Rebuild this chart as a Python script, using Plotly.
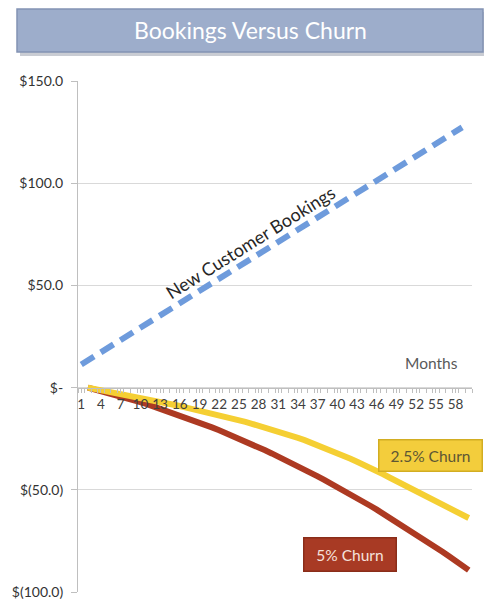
import plotly.graph_objects as go

# Months on the category axis
tick_months = list(range(1, 61, 3))

# Cumulative new customer bookings ($), months 1-59
booking_months = list(range(1, 60))
bookings = [11.3, 13.3, 15.3, 17.3, 19.3, 21.3, 23.3, 25.3, 27.3, 29.3,
            31.3, 33.3, 35.3, 37.3, 39.3, 41.3, 43.3, 45.3, 47.3, 49.3,
            51.3, 53.3, 55.3, 57.3, 59.3, 61.3, 63.3, 65.3, 67.3, 69.3,
            71.3, 73.3, 75.3, 77.3, 79.3, 81.3, 83.3, 85.3, 87.3, 89.3,
            91.3, 93.3, 95.3, 97.3, 99.3, 101.3, 103.3, 105.3, 107.3, 109.3,
            111.3, 113.3, 115.3, 117.3, 119.3, 121.3, 123.3, 125.3, 127.3]

# Revenue lost to churn ($), months 2-60
churn_months = list(range(2, 61))
churn_25 = [0.0, -0.6, -1.2, -1.8, -2.4, -3.0, -3.6, -4.3, -4.9, -5.6,
            -6.2, -6.9, -7.5, -8.3, -9.0, -9.8, -10.5, -11.3, -12.0, -12.8,
            -13.6, -14.3, -15.1, -15.9, -16.8, -17.7, -18.6, -19.5, -20.4, -21.5,
            -22.5, -23.6, -24.6, -25.7, -26.9, -28.2, -29.4, -30.7, -31.9, -33.4,
            -34.8, -36.3, -37.7, -39.2, -40.8, -42.4, -44.1, -45.7, -47.3, -49.0,
            -50.7, -52.4, -54.1, -55.8, -57.4, -59.0, -60.6, -62.2, -63.8]
churn_5 = [0.0, -0.8, -1.6, -2.5, -3.4, -4.3, -5.2, -6.1, -7.1, -8.1,
           -9.2, -10.2, -11.3, -12.4, -13.5, -14.7, -15.9, -17.1, -18.3, -19.6,
           -20.9, -22.2, -23.6, -24.9, -26.3, -27.8, -29.2, -30.7, -32.2, -33.7,
           -35.3, -36.8, -38.4, -40.1, -41.7, -43.4, -45.1, -46.8, -48.6, -50.4,
           -52.2, -54.0, -55.9, -57.8, -59.7, -61.7, -63.6, -65.6, -67.6, -69.7,
           -71.8, -73.9, -76.0, -78.1, -80.3, -82.5, -84.7, -87.0, -89.3]

# Dollar axis
y_ticks = [150, 100, 50, 0, -50, -100]
y_labels = ["$150.0", "$100.0", "$50.0", "$-", "$(50.0)", "$(100.0)"]

FONT = "Lato, 'Open Sans', sans-serif"
BLUE = "#6e9bdc"
YELLOW = "#f5cf33"
RED = "#ad3a22"

fig = go.Figure()

fig.add_trace(go.Scatter(x=churn_months, y=churn_5, mode="lines",
                         line=dict(color=RED, width=6), hoverinfo="skip"))
fig.add_trace(go.Scatter(x=churn_months, y=churn_25, mode="lines",
                         line=dict(color=YELLOW, width=6), hoverinfo="skip"))
fig.add_trace(go.Scatter(x=booking_months, y=bookings, mode="lines",
                         line=dict(color=BLUE, width=6, dash="15px,8px"),
                         hoverinfo="skip"))

fig.update_layout(
    width=484, height=600,
    margin=dict(l=78, r=12, t=81, b=8),
    paper_bgcolor="white", plot_bgcolor="white",
    showlegend=False,
    font=dict(family=FONT, color="#404040", size=12),
    xaxis=dict(
        range=[0.5, 60.5], anchor="free", position=0.4, automargin=False,
        tickvals=tick_months, ticktext=[str(m) for m in tick_months],
        showline=True, linecolor="#bfbfbf", linewidth=1,
        ticks="outside", ticklen=4, tickcolor="#bfbfbf",
        minor=dict(dtick=1, tick0=0.5, ticks="outside", ticklen=4, tickcolor="#bfbfbf"),
        showgrid=False, zeroline=False,
        tickfont=dict(size=13.5, color="#404040"),
    ),
    yaxis=dict(
        range=[-100, 150], tickvals=y_ticks, ticktext=y_labels, automargin=False,
        showline=True, linecolor="#bfbfbf", linewidth=1,
        ticks="outside", ticklen=6, tickcolor="#bfbfbf", ticklabelstandoff=5,
        showgrid=True, gridcolor="#d9d9d9", gridwidth=1,
        zeroline=False,
        tickfont=dict(size=14, color="#333333"),
    ),
)

# Title banner with a soft drop shadow
fig.add_shape(type="rect", xref="paper", yref="paper", layer="below",
              x0=(20 - 78) / 394, x1=(486 - 78) / 394,
              y0=(592 - 56) / 511, y1=(592 - 12) / 511,
              fillcolor="#c9ccd3", line=dict(width=0))
fig.add_shape(type="rect", xref="paper", yref="paper",
              x0=(17 - 78) / 394, x1=(483 - 78) / 394,
              y0=(592 - 52) / 511, y1=(592 - 9) / 511,
              fillcolor="#9dadcb", line=dict(color="#8393b4", width=1.5))
fig.add_annotation(xref="paper", yref="paper",
                   x=(250 - 78) / 394, y=(592 - 30) / 511,
                   xanchor="center", yanchor="middle",
                   text="Bookings Versus Churn", showarrow=False,
                   font=dict(family=FONT, size=23, color="white"))

# Series labels
fig.add_annotation(x=26.8, y=71, text="New Customer Bookings", showarrow=False,
                   xanchor="center", yanchor="middle",
                   textangle=-32, font=dict(family=FONT, size=18, color="#262626"))
fig.add_annotation(x=54.4, y=12.2, text="Months", showarrow=False,
                   xanchor="center", yanchor="middle",
                   font=dict(family=FONT, size=15.5, color="#595959"))
fig.add_annotation(x=54.25, y=-33.3, text="2.5% Churn", showarrow=False,
                   xanchor="center", yanchor="middle",
                   width=100, height=28, bgcolor="#f3cd3c", bordercolor="#d2ad22",
                   borderwidth=1.5, font=dict(family=FONT, size=15.5, color="#5e5634"))
fig.add_annotation(x=41.9, y=-81.5, text="5% Churn", showarrow=False,
                   xanchor="center", yanchor="middle",
                   width=89, height=30, bgcolor="#a83a24", bordercolor="#8a2d19",
                   borderwidth=1.5, font=dict(family=FONT, size=15.5, color="#f5e2dc"))

fig.write_html("out.html")
